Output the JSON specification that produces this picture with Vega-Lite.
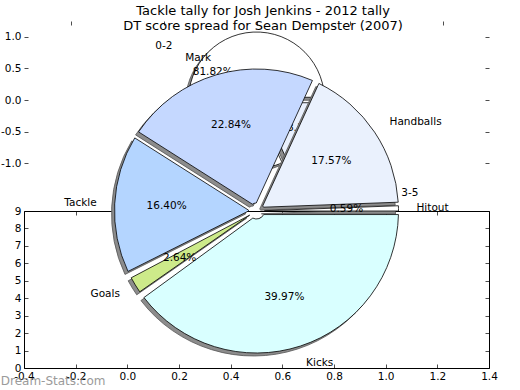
{
  "$schema": "https://vega.github.io/schema/vega-lite/v6.json",
  "background": "white",
  "padding": {"left": 0, "top": 4, "right": 5, "bottom": 2},
  "bounds": "flush",
  "title": {
    "text": ["Tackle tally for Josh Jenkins - 2012 tally", "DT score spread for Sean Dempster (2007)"],
    "font": "DejaVu Sans", "fontSize": 13, "fontWeight": "normal", "color": "black",
    "lineHeight": 15, "anchor": "middle", "offset": -12, "dx": 14
  },
  "datasets": {
    "tally": [
      {"label": "Kicks", "share": 0.3997, "ord": 1},
      {"label": "Goals", "share": 0.0264, "ord": 2},
      {"label": "Tackle", "share": 0.1640, "ord": 3},
      {"label": "Mark", "share": 0.2284, "ord": 4},
      {"label": "Handballs", "share": 0.1757, "ord": 5},
      {"label": "Hitout", "share": 0.0059, "ord": 6}
    ],
    "dt": [
      {"label": "3-5", "share": 0.1818, "ord": 1},
      {"label": "0-2", "share": 0.8182, "ord": 2}
    ]
  },
  "spacing": 32,
  "resolve": {"scale": {"color": "independent", "theta": "independent", "x": "independent", "y": "independent"}},
  "vconcat": [
    {
      "width": 465, "height": 158,
      "view": {"stroke": null},
      "data": {"name": "dt"},
      "layer": [
        {
          "mark": {"type": "arc", "radius": 68, "radius2": 6, "padAngle": 0.08, "fill": "#8c8c8c", "stroke": "#555555", "strokeWidth": 0.8, "xOffset": -3, "yOffset": 3},
          "encoding": {
            "x": {"datum": 0, "type": "quantitative", "scale": {"domain": [-1.25, 1.25], "nice": false, "zero": false},
                  "axis": {"orient": "top", "values": [-1, -0.5, 0, 0.5, 1], "labels": false, "title": null}},
            "y": {"datum": 0, "type": "quantitative", "scale": {"domain": [-1.25, 1.25], "nice": false, "zero": false},
                  "axis": {"orient": "left", "values": [-1, -0.5, 0, 0.5, 1], "labelExpr": "replace(format(datum.value, '.1f'), '\u2212', '-')", "title": null}},
            "theta": {"field": "share", "type": "quantitative", "stack": true, "scale": {"range": [1.5708, 7.854]}},
            "order": {"field": "ord", "type": "quantitative"}
          }
        },
        {
          "mark": {"type": "arc", "radius": 68, "radius2": 6, "padAngle": 0.08, "stroke": "black", "strokeWidth": 0.8},
          "encoding": {
            "x": {"datum": 0, "type": "quantitative", "axis": null},
            "y": {"datum": 0, "type": "quantitative",
                  "axis": {"orient": "right", "values": [-1, -0.5, 0, 0.5, 1], "labels": false, "title": null}},
            "theta": {"field": "share", "type": "quantitative", "stack": true},
            "order": {"field": "ord", "type": "quantitative"},
            "color": {"field": "label", "type": "nominal", "scale": {"domain": ["0-2", "3-5"], "range": ["#ffffff", "#e9f0fd"]}, "legend": null}
          }
        },
        {
          "mark": {"type": "text", "radius": 52, "font": "DejaVu Sans", "fontSize": 10.5, "color": "black"},
          "encoding": {
            "x": {"datum": 0, "type": "quantitative", "axis": null},
            "y": {"datum": 0, "type": "quantitative", "axis": null},
            "theta": {"field": "share", "type": "quantitative", "stack": true},
            "order": {"field": "ord", "type": "quantitative"},
            "text": {"field": "share", "type": "quantitative", "format": ".2%"}
          }
        },
        {
          "mark": {"type": "text", "font": "DejaVu Sans", "fontSize": 10.5, "color": "black",
                   "radius": {"expr": "datum.label == '3-5' ? 172 : 100"},
                   "align": {"expr": "((datum.share_start + datum.share_end) / 2 > 0.25 && (datum.share_start + datum.share_end) / 2 < 0.75) ? 'right' : 'left'"}},
          "encoding": {
            "x": {"datum": 0, "type": "quantitative", "axis": null},
            "y": {"datum": 0, "type": "quantitative", "axis": null},
            "theta": {"field": "share", "type": "quantitative", "stack": true},
            "order": {"field": "ord", "type": "quantitative"},
            "text": {"field": "label", "type": "nominal"}
          }
        }
      ],
      "resolve": {"axis": {"x": "independent", "y": "independent"}}
    },
    {
      "width": 465, "height": 157,
      "view": {"stroke": "black", "strokeWidth": 1},
      "data": {"name": "tally"},
      "layer": [
        {
          "mark": {"type": "arc", "radius": 142, "radius2": 8, "padAngle": {"expr": "datum.share < 0.01 ? 0 : 0.05"}, "fill": "#8c8c8c", "stroke": "#555555", "strokeWidth": 0.8, "xOffset": -3, "yOffset": 3},
          "encoding": {
            "x": {"datum": 0.5, "type": "quantitative", "scale": {"domain": [-0.4, 1.4], "nice": false, "zero": false},
                  "axis": {"orient": "bottom", "values": [-0.4, -0.2, 0, 0.2, 0.4, 0.6, 0.8, 1.0, 1.2, 1.4], "labelExpr": "replace(format(datum.value, '.1f'), '\u2212', '-')", "title": null}},
            "y": {"datum": 9, "type": "quantitative", "scale": {"domain": [0, 9], "nice": false, "zero": false},
                  "axis": {"orient": "left", "values": [0, 1, 2, 3, 4, 5, 6, 7, 8, 9], "title": null}},
            "theta": {"field": "share", "type": "quantitative", "stack": true, "scale": {"range": [1.5708, 7.854]}},
            "order": {"field": "ord", "type": "quantitative"}
          }
        },
        {
          "mark": {"type": "arc", "radius": 142, "radius2": 8, "padAngle": {"expr": "datum.share < 0.01 ? 0 : 0.05"}, "stroke": "black", "strokeWidth": 0.8},
          "encoding": {
            "x": {"datum": 0.5, "type": "quantitative",
                  "axis": {"orient": "top", "values": [-0.4, -0.2, 0, 0.2, 0.4, 0.6, 0.8, 1.0, 1.2, 1.4], "labels": false, "title": null}},
            "y": {"datum": 9, "type": "quantitative",
                  "axis": {"orient": "right", "values": [0, 1, 2, 3, 4, 5, 6, 7, 8, 9], "labels": false, "title": null}},
            "theta": {"field": "share", "type": "quantitative", "stack": true},
            "order": {"field": "ord", "type": "quantitative"},
            "color": {"field": "label", "type": "nominal",
                      "scale": {"domain": ["Kicks", "Goals", "Tackle", "Mark", "Handballs", "Hitout"],
                                "range": ["#d9ffff", "#cdea8a", "#b4d5ff", "#c5d8ff", "#eaf1fd", "#ffffff"]},
                      "legend": null}
          }
        },
        {
          "mark": {"type": "text", "radius": 90, "font": "DejaVu Sans", "fontSize": 10.5, "color": "black"},
          "encoding": {
            "x": {"datum": 0.5, "type": "quantitative", "axis": null},
            "y": {"datum": 9, "type": "quantitative", "axis": null},
            "theta": {"field": "share", "type": "quantitative", "stack": true},
            "order": {"field": "ord", "type": "quantitative"},
            "text": {"field": "share", "type": "quantitative", "format": ".2%"}
          }
        },
        {
          "mark": {"type": "text", "radius": 160, "font": "DejaVu Sans", "fontSize": 10.5, "color": "black",
                   "align": {"expr": "((datum.share_start + datum.share_end) / 2 > 0.25 && (datum.share_start + datum.share_end) / 2 < 0.75) ? 'right' : 'left'"}},
          "encoding": {
            "x": {"datum": 0.5, "type": "quantitative", "axis": null},
            "y": {"datum": 9, "type": "quantitative", "axis": null},
            "theta": {"field": "share", "type": "quantitative", "stack": true},
            "order": {"field": "ord", "type": "quantitative"},
            "text": {"field": "label", "type": "nominal"}
          }
        },
        {
          "data": {"values": [{"t": "Dream-Stats.com"}]},
          "mark": {"type": "text", "align": "left", "baseline": "middle", "font": "DejaVu Sans", "fontSize": 12, "color": "#8a8a8a", "opacity": 0.85},
          "encoding": {
            "x": {"datum": -0.49, "type": "quantitative", "axis": null},
            "y": {"datum": -0.75, "type": "quantitative", "axis": null},
            "text": {"field": "t", "type": "nominal"}
          }
        }
      ],
      "resolve": {"axis": {"x": "independent", "y": "independent"}}
    }
  ],
  "config": {
    "font": "DejaVu Sans",
    "axis": {
      "labelFont": "DejaVu Sans", "labelFontSize": 10.5, "labelColor": "black",
      "tickColor": "black", "tickWidth": 0.7, "tickSize": -4, "labelPadding": 7,
      "domain": false, "grid": false, "labelFlush": false, "labelOverlap": false
    }
  }
}
